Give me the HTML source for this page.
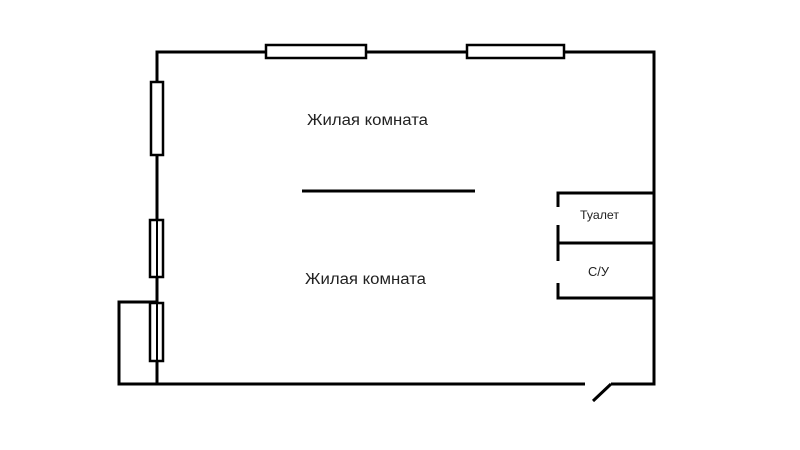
<!DOCTYPE html>
<html><head><meta charset="utf-8"><style>html,body{margin:0;padding:0;background:#fff}svg{display:block}</style></head>
<body>
<svg width="800" height="450" viewBox="0 0 800 450" xmlns="http://www.w3.org/2000/svg">
<g stroke="#000" stroke-width="3" fill="none">
<polyline points="585,384 157,384 157,52 654,52 654,384 611,384"/>
<line x1="611" y1="384" x2="593" y2="401"/>
<polyline points="157,302 119,302 119,384 157,384"/>
<line x1="302" y1="191" x2="475" y2="191"/>
<polyline points="558,207 558,193 654,193"/>
<line x1="558" y1="243" x2="654" y2="243"/>
<line x1="558" y1="225" x2="558" y2="261"/>
<polyline points="558,283 558,298 654,298"/>
</g>
<g stroke="#000" stroke-width="2.5" fill="#fff">
<rect x="266" y="45" width="100" height="13"/>
<rect x="467" y="45" width="97" height="13"/>
<rect x="151" y="82" width="12" height="73"/>
<rect x="150" y="220" width="13" height="57"/>
<rect x="150" y="303" width="13" height="58"/>
</g>
<g stroke="#000" stroke-width="2">
<line x1="157" y1="303" x2="157" y2="361"/>
<line x1="157" y1="220" x2="157" y2="277"/>
</g>
<g font-family="Liberation Sans, DejaVu Sans, sans-serif" fill="#222">
<text x="307" y="125" font-size="15.5" textLength="121" lengthAdjust="spacingAndGlyphs">Жилая комната</text>
<text x="305" y="284" font-size="15.5" textLength="121" lengthAdjust="spacingAndGlyphs">Жилая комната</text>
<text x="580" y="219" font-size="12" textLength="39" lengthAdjust="spacingAndGlyphs">Туалет</text>
<text x="588" y="276" font-size="12.5" textLength="21" lengthAdjust="spacingAndGlyphs">С/У</text>
</g>
</svg>
</body></html>
